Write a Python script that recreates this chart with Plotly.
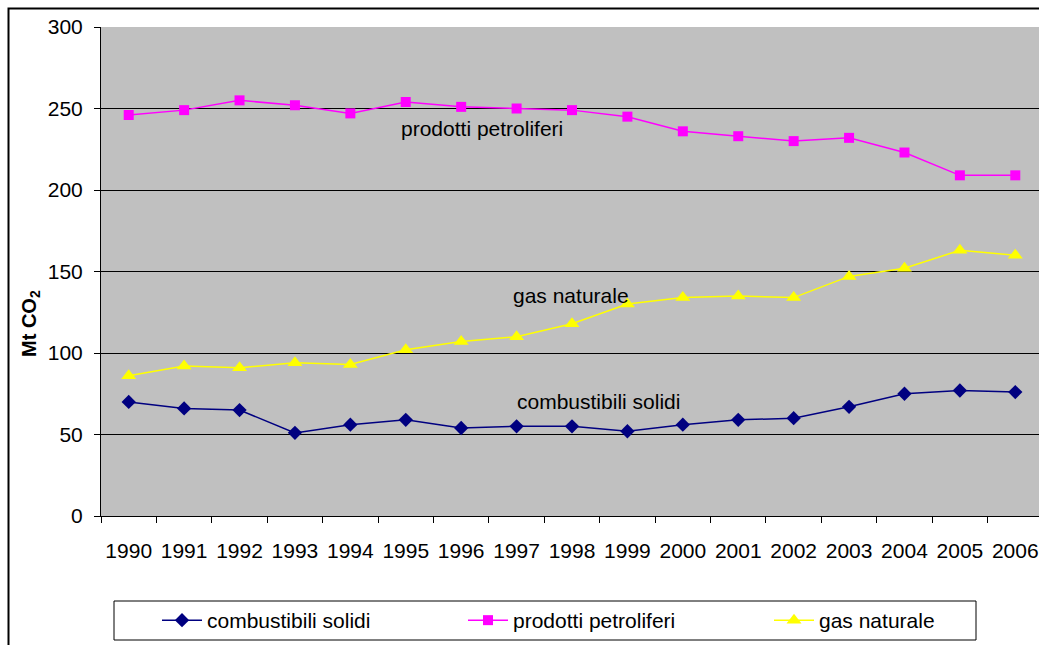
import plotly.graph_objects as go

years = [str(y) for y in range(1990, 2007)]
combustibili_solidi = [70, 66, 65, 51, 56, 59, 54, 55, 55, 52, 56, 59, 60, 67, 75, 77, 76]
prodotti_petroliferi = [246, 249, 255, 252, 247, 254, 251, 250, 249, 245, 236, 233, 230, 232, 223, 209, 209]
gas_naturale = [86, 92, 91, 94, 93, 102, 107, 110, 118, 130, 134, 135, 134, 147, 152, 163, 160]

y_ticks = [0, 50, 100, 150, 200, 250, 300]

FONT = "Liberation Sans, Arial, sans-serif"
W, H = 1039, 645
L, T = 101, 27
B = H - 516
plot_w = W - L
plot_h = H - T - B


def px_x(sx):
    return (sx - L) / plot_w


def px_y(sy):
    return (H - B - sy) / plot_h


fig = go.Figure()
fig.add_trace(go.Scatter(x=years, y=combustibili_solidi, name="combustibili solidi",
                         mode="lines+markers",
                         line=dict(color="#000080", width=1.5),
                         marker=dict(symbol="diamond", size=11, color="#000080")))
fig.add_trace(go.Scatter(x=years, y=prodotti_petroliferi, name="prodotti petroliferi",
                         mode="lines+markers",
                         line=dict(color="#FF00FF", width=1.5),
                         marker=dict(symbol="square", size=10, color="#FF00FF")))
fig.add_trace(go.Scatter(x=years, y=gas_naturale, name="gas naturale",
                         mode="lines+markers",
                         line=dict(color="#FFFF00", width=1.5),
                         marker=dict(symbol="triangle-up", size=13, color="#FFFF00")))

labels = [("prodotti petroliferi", 6.37, 238), ("gas naturale", 7.99, 135.5), ("combustibili solidi", 8.48, 70.5)]
for txt, xi, yv in labels:
    fig.add_annotation(x=xi, y=yv, xref="x", yref="y", text=txt, showarrow=False,
                       font=dict(family=FONT, size=21, color="black"))

# y axis title
fig.add_annotation(x=px_x(30), y=px_y(324), xref="paper", yref="paper",
                   xanchor="center", yanchor="middle",
                   text="<b>Mt CO<sub>2</sub></b>", textangle=-90, showarrow=False,
                   font=dict(family=FONT, size=20, color="black"))

# outer chart frame
fig.add_shape(type="rect", xref="paper", yref="paper",
              x0=px_x(8.5), x1=px_x(1080), y0=px_y(720), y1=px_y(8.5),
              line=dict(color="black", width=2), layer="below")
# legend box
fig.add_shape(type="rect", xref="paper", yref="paper",
              x0=px_x(114), x1=px_x(976), y0=px_y(640), y1=px_y(601),
              line=dict(color="black", width=1), fillcolor="white", layer="below")

cat_w = (1043 - 101) / 17.0
x_end = -0.5 + plot_w / cat_w

fig.update_layout(
    width=W, height=H,
    margin=dict(l=L, r=0, t=T, b=B, autoexpand=False),
    paper_bgcolor="white",
    plot_bgcolor="#C0C0C0",
    font=dict(family=FONT, size=20, color="black"),
    showlegend=True,
    legend=dict(orientation="h", xref="container", yref="container",
                x=157 / W, y=1 - 600 / H, xanchor="left", yanchor="top",
                bgcolor="rgba(0,0,0,0)", borderwidth=0,
                entrywidth=251, entrywidthmode="pixels",
                font=dict(family=FONT, size=21), itemwidth=40),
    xaxis=dict(type="category", range=[-0.5, x_end], tickson="boundaries",
               ticks="outside", ticklen=6, tickcolor="black", tickwidth=1,
               ticklabelstandoff=16, tickangle=0,
               showgrid=False, showline=True, linecolor="black", linewidth=1,
               tickfont=dict(family=FONT, size=21), zeroline=False),
    yaxis=dict(range=[0, 300], tickvals=y_ticks, ticks="outside", ticklen=6,
               tickcolor="black", showgrid=True, gridcolor="black", gridwidth=1,
               ticklabelstandoff=7,
               showline=True, linecolor="black", linewidth=1, zeroline=False,
               tickfont=dict(family=FONT, size=21)),
)

fig.write_html("out.html", config={"displayModeBar": False},
               post_script="document.body.style.margin='0';document.body.style.overflow='hidden';")
